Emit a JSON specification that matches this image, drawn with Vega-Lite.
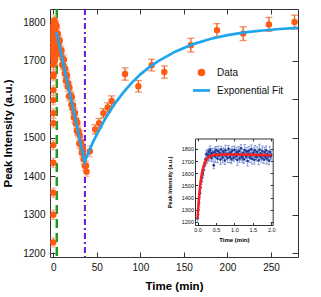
{
"$schema": "https://vega.github.io/schema/vega-lite/v6.json",
"width": 248, "height": 248,
"autosize": {"type": "none"},
"padding": {"left": 50, "top": 9, "right": 23, "bottom": 40},
"background": "white",
"config": {"view": {"stroke": null},
  "axis": {"grid": false, "domainColor": "#333", "tickColor": "#333", "labelColor": "#111", "titleColor": "#000", "labelFont": "Liberation Sans", "titleFont": "Liberation Sans", "titleFontWeight": "bold"},
  "legend": {"orient": "none", "legendX": 141.5, "legendY": 58.5, "labelFont": "Liberation Sans", "labelFontSize": 10, "labelColor": "#111", "labelOffset": 5.5, "rowPadding": -9, "symbolStrokeWidth": 2.7}},
"datasets": {
"pts": [
{"phase":"early","t":0,"y":1228,"err":12,"ierr":32},{"phase":"early","t":0.02,"y":1300,"err":12,"ierr":40},{"phase":"early","t":0.04,"y":1357,"err":12,"ierr":28},{"phase":"early","t":0.06,"y":1435,"err":12,"ierr":36},{"phase":"early","t":0.08,"y":1481,"err":12,"ierr":45},{"phase":"early","t":0.1,"y":1538,"err":12,"ierr":30},{"phase":"early","t":0.12,"y":1564,"err":12,"ierr":38},{"phase":"early","t":0.14,"y":1598,"err":12,"ierr":34},{"phase":"early","t":0.16,"y":1624,"err":12,"ierr":42},{"phase":"early","t":0.18,"y":1660,"err":12,"ierr":29},
{"phase":"early","t":0.2,"y":1690,"err":12,"ierr":32},{"phase":"early","t":0.22,"y":1712,"err":12,"ierr":40},{"phase":"early","t":0.24,"y":1760,"err":12,"ierr":28},{"phase":"early","t":0.26,"y":1718,"err":12,"ierr":36},{"phase":"early","t":0.28,"y":1748,"err":12,"ierr":45},{"phase":"early","t":0.3,"y":1775,"err":12,"ierr":30},{"phase":"early","t":0.32,"y":1738,"err":12,"ierr":38},{"phase":"early","t":0.34,"y":1790,"err":12,"ierr":34},{"phase":"early","t":0.36,"y":1760,"err":12,"ierr":42},{"phase":"early","t":0.38,"y":1725,"err":12,"ierr":29},
{"phase":"early","t":0.4,"y":1770,"err":12,"ierr":32},{"phase":"early","t":0.42,"y":1748,"err":12,"ierr":40},{"phase":"early","t":0.44,"y":1665,"err":12,"ierr":28},{"phase":"early","t":0.46,"y":1772,"err":12,"ierr":36},{"phase":"early","t":0.48,"y":1735,"err":12,"ierr":45},{"phase":"early","t":0.5,"y":1790,"err":12,"ierr":30},{"phase":"early","t":0.52,"y":1758,"err":12,"ierr":38},{"phase":"early","t":0.54,"y":1720,"err":12,"ierr":34},{"phase":"early","t":0.56,"y":1781,"err":12,"ierr":42},{"phase":"early","t":0.58,"y":1745,"err":12,"ierr":29},
{"phase":"early","t":0.6,"y":1768,"err":12,"ierr":32},{"phase":"early","t":0.62,"y":1712,"err":12,"ierr":40},{"phase":"early","t":0.64,"y":1795,"err":12,"ierr":28},{"phase":"early","t":0.66,"y":1750,"err":12,"ierr":36},{"phase":"early","t":0.68,"y":1730,"err":12,"ierr":45},{"phase":"early","t":0.7,"y":1778,"err":12,"ierr":30},{"phase":"early","t":0.72,"y":1762,"err":12,"ierr":38},{"phase":"early","t":0.74,"y":1704,"err":12,"ierr":34},{"phase":"early","t":0.76,"y":1788,"err":12,"ierr":42},{"phase":"early","t":0.78,"y":1741,"err":12,"ierr":29},
{"phase":"early","t":0.8,"y":1756,"err":12,"ierr":32},{"phase":"early","t":0.82,"y":1725,"err":12,"ierr":40},{"phase":"early","t":0.84,"y":1800,"err":12,"ierr":28},{"phase":"early","t":0.86,"y":1760,"err":12,"ierr":36},{"phase":"early","t":0.88,"y":1733,"err":12,"ierr":45},{"phase":"early","t":0.9,"y":1770,"err":12,"ierr":30},{"phase":"early","t":0.92,"y":1716,"err":12,"ierr":38},{"phase":"early","t":0.94,"y":1785,"err":12,"ierr":34},{"phase":"early","t":0.96,"y":1748,"err":12,"ierr":42},{"phase":"early","t":0.98,"y":1727,"err":12,"ierr":29},
{"phase":"early","t":1.0,"y":1792,"err":12,"ierr":32},{"phase":"early","t":1.02,"y":1755,"err":12,"ierr":40},{"phase":"early","t":1.04,"y":1738,"err":12,"ierr":28},{"phase":"early","t":1.06,"y":1775,"err":12,"ierr":36},{"phase":"early","t":1.08,"y":1709,"err":12,"ierr":45},{"phase":"early","t":1.1,"y":1764,"err":12,"ierr":30},{"phase":"early","t":1.12,"y":1782,"err":12,"ierr":38},{"phase":"early","t":1.14,"y":1722,"err":12,"ierr":34},{"phase":"early","t":1.16,"y":1750,"err":12,"ierr":42},{"phase":"early","t":1.18,"y":1805,"err":12,"ierr":29},
{"phase":"early","t":1.2,"y":1740,"err":12,"ierr":32},{"phase":"early","t":1.22,"y":1730,"err":12,"ierr":40},{"phase":"early","t":1.24,"y":1768,"err":12,"ierr":28},{"phase":"early","t":1.26,"y":1715,"err":12,"ierr":36},{"phase":"early","t":1.28,"y":1790,"err":12,"ierr":45},{"phase":"early","t":1.3,"y":1752,"err":12,"ierr":30},{"phase":"early","t":1.32,"y":1736,"err":12,"ierr":38},{"phase":"early","t":1.34,"y":1779,"err":12,"ierr":34},{"phase":"early","t":1.36,"y":1700,"err":12,"ierr":42},{"phase":"early","t":1.38,"y":1760,"err":12,"ierr":29},
{"phase":"early","t":1.4,"y":1785,"err":12,"ierr":32},{"phase":"early","t":1.42,"y":1728,"err":12,"ierr":40},{"phase":"early","t":1.44,"y":1744,"err":12,"ierr":28},{"phase":"early","t":1.46,"y":1796,"err":12,"ierr":36},{"phase":"early","t":1.48,"y":1719,"err":12,"ierr":45},{"phase":"early","t":1.5,"y":1758,"err":12,"ierr":30},{"phase":"early","t":1.52,"y":1770,"err":12,"ierr":38},{"phase":"early","t":1.54,"y":1710,"err":12,"ierr":34},{"phase":"early","t":1.56,"y":1787,"err":12,"ierr":42},{"phase":"early","t":1.58,"y":1742,"err":12,"ierr":29},
{"phase":"early","t":1.6,"y":1731,"err":12,"ierr":32},{"phase":"early","t":1.62,"y":1776,"err":12,"ierr":40},{"phase":"early","t":1.64,"y":1753,"err":12,"ierr":28},{"phase":"early","t":1.66,"y":1706,"err":12,"ierr":36},{"phase":"early","t":1.68,"y":1793,"err":12,"ierr":45},{"phase":"early","t":1.7,"y":1739,"err":12,"ierr":30},{"phase":"early","t":1.72,"y":1761,"err":12,"ierr":38},{"phase":"early","t":1.74,"y":1724,"err":12,"ierr":34},{"phase":"early","t":1.76,"y":1782,"err":12,"ierr":42},{"phase":"early","t":1.78,"y":1747,"err":12,"ierr":29},
{"phase":"early","t":1.8,"y":1712,"err":12,"ierr":32},{"phase":"early","t":1.82,"y":1772,"err":12,"ierr":40},{"phase":"early","t":1.84,"y":1735,"err":12,"ierr":28},{"phase":"early","t":1.86,"y":1788,"err":12,"ierr":36},{"phase":"early","t":1.88,"y":1720,"err":12,"ierr":45},{"phase":"early","t":1.9,"y":1757,"err":12,"ierr":30},{"phase":"early","t":1.92,"y":1742,"err":12,"ierr":38},{"phase":"early","t":1.94,"y":1703,"err":12,"ierr":34},{"phase":"early","t":1.96,"y":1775,"err":12,"ierr":42},{"phase":"early","t":1.98,"y":1738,"err":12,"ierr":29},
{"phase":"early","t":2.0,"y":1750,"err":12,"ierr":32},
{"phase":"decline","t":2.5,"y":1797,"err":12},{"phase":"decline","t":3.2,"y":1770,"err":12},{"phase":"decline","t":3.9,"y":1791,"err":12},{"phase":"decline","t":4.6,"y":1759,"err":12},{"phase":"decline","t":5.3,"y":1771,"err":12},{"phase":"decline","t":6.0,"y":1737,"err":12},{"phase":"decline","t":6.7,"y":1748,"err":12},{"phase":"decline","t":7.4,"y":1753,"err":12},{"phase":"decline","t":8.1,"y":1717,"err":12},{"phase":"decline","t":8.8,"y":1723,"err":12},
{"phase":"decline","t":9.5,"y":1727,"err":12},{"phase":"decline","t":10.2,"y":1690,"err":12},{"phase":"decline","t":10.9,"y":1706,"err":12},{"phase":"decline","t":11.6,"y":1687,"err":12},{"phase":"decline","t":12.3,"y":1703,"err":12},{"phase":"decline","t":13.0,"y":1667,"err":12},{"phase":"decline","t":13.7,"y":1680,"err":12},{"phase":"decline","t":14.4,"y":1648,"err":12},{"phase":"decline","t":15.1,"y":1660,"err":12},{"phase":"decline","t":15.8,"y":1663,"err":12},
{"phase":"decline","t":16.5,"y":1633,"err":12},{"phase":"decline","t":17.2,"y":1642,"err":12},{"phase":"decline","t":17.9,"y":1608,"err":12},{"phase":"decline","t":18.6,"y":1631,"err":12},{"phase":"decline","t":19.3,"y":1609,"err":12},{"phase":"decline","t":20.0,"y":1611,"err":12},{"phase":"decline","t":20.7,"y":1586,"err":12},{"phase":"decline","t":21.4,"y":1606,"err":12},{"phase":"decline","t":22.1,"y":1576,"err":12},{"phase":"decline","t":22.8,"y":1585,"err":12},
{"phase":"decline","t":23.5,"y":1553,"err":12},{"phase":"decline","t":24.2,"y":1564,"err":12},{"phase":"decline","t":24.9,"y":1565,"err":12},{"phase":"decline","t":25.6,"y":1537,"err":12},{"phase":"decline","t":26.3,"y":1545,"err":12},{"phase":"decline","t":27.0,"y":1518,"err":12},{"phase":"decline","t":27.7,"y":1539,"err":12},{"phase":"decline","t":28.4,"y":1514,"err":12},{"phase":"decline","t":29.1,"y":1518,"err":12},{"phase":"decline","t":29.8,"y":1485,"err":12},
{"phase":"decline","t":30.5,"y":1506,"err":12},{"phase":"decline","t":31.2,"y":1483,"err":12},{"phase":"decline","t":31.9,"y":1490,"err":12},{"phase":"decline","t":32.6,"y":1461,"err":12},{"phase":"decline","t":33.3,"y":1469,"err":12},{"phase":"decline","t":34.0,"y":1473,"err":12},{"phase":"decline","t":34.7,"y":1444,"err":12},{"phase":"decline","t":35.4,"y":1450,"err":12},{"phase":"decline","t":36.1,"y":1427,"err":12},{"phase":"decline","t":36.8,"y":1426,"err":12},
{"phase":"decline","t":37.5,"y":1428,"err":12},{"phase":"decline","t":38.2,"y":1412,"err":12},{"phase":"decline","t":42,"y":1465,"err":14},
{"phase":"recovery","t":48,"y":1522,"err":12},{"phase":"recovery","t":52.5,"y":1538,"err":12},{"phase":"recovery","t":57.5,"y":1564,"err":12},{"phase":"recovery","t":62.5,"y":1579,"err":12},{"phase":"recovery","t":67,"y":1596,"err":13},{"phase":"recovery","t":82.4,"y":1666,"err":16},{"phase":"recovery","t":97.7,"y":1634,"err":15},{"phase":"recovery","t":113,"y":1689,"err":15},{"phase":"recovery","t":127.5,"y":1671,"err":16},{"phase":"recovery","t":158,"y":1741,"err":18},{"phase":"recovery","t":188,"y":1780,"err":17},{"phase":"recovery","t":218,"y":1771,"err":18},{"phase":"recovery","t":247.6,"y":1795,"err":18},{"phase":"recovery","t":277,"y":1801,"err":18}
],
"fit": [
{"t":3.5,"y":1775},{"t":36,"y":1438},{"t":40,"y":1460},{"t":45,"y":1486},{"t":50,"y":1509},{"t":60,"y":1551},{"t":70,"y":1587},{"t":80,"y":1617},{"t":90,"y":1643},{"t":100,"y":1665},{"t":110,"y":1683},{"t":120,"y":1699},{"t":140,"y":1724},{"t":160,"y":1743},{"t":180,"y":1757},{"t":200,"y":1767},{"t":220,"y":1774},{"t":240,"y":1779},{"t":260,"y":1783},{"t":281,"y":1786}
],
"red": [
{"t":0,"y":1228},{"t":0.025,"y":1349},{"t":0.05,"y":1442},{"t":0.075,"y":1514},{"t":0.1,"y":1569},{"t":0.125,"y":1612},{"t":0.15,"y":1644},{"t":0.2,"y":1688},{"t":0.25,"y":1714},{"t":0.3,"y":1732},{"t":0.35,"y":1742},{"t":0.4,"y":1748},{"t":0.5,"y":1752},{"t":0.75,"y":1754},{"t":1.0,"y":1754},{"t":1.5,"y":1751},{"t":2.0,"y":1747}
]
},
"layer": [
{
"layer": [
{"data": {"values": [{"t": 4}]}, "mark": {"type": "rule", "color": "#1E9B1E", "strokeWidth": 2.5, "strokeDash": [9, 5]},
 "encoding": {"x": {"field": "t", "type": "quantitative", "title": "Time (min)", "scale": {"domain": [-3.8, 281], "nice": false, "zero": false},
   "axis": {"orient": "bottom", "values": [0, 50, 100, 150, 200, 250], "tickSize": -5, "labelPadding": 10, "labelFontSize": 10, "titleFontSize": 11.5, "titlePadding": 8}}}},
{"data": {"values": [{"t": 36.3}]}, "mark": {"type": "rule", "color": "#6A17D8", "strokeWidth": 2, "strokeDash": [6, 3, 2, 3]},
 "encoding": {"x": {"field": "t", "type": "quantitative", "title": "Time (min)"}}},
{"data": {"name": "pts"}, "transform": [{"filter": "datum.phase !== 'recovery'"}],
 "mark": {"type": "errorbar", "color": "#F59A78", "thickness": 1.2, "ticks": {"size": 6}},
 "encoding": {"x": {"field": "t", "type": "quantitative", "title": "Time (min)"},
   "y": {"field": "y", "type": "quantitative", "title": "Peak Intensity (a.u.)", "scale": {"domain": [1190, 1835], "nice": false, "zero": false},
     "axis": {"orient": "left", "values": [1200, 1300, 1400, 1500, 1600, 1700, 1800], "format": "d", "tickSize": -5, "labelPadding": 10, "labelFontSize": 10, "titleFontSize": 11.5, "titlePadding": 9}},
   "yError": {"field": "err"}}},
{"data": {"name": "pts"}, "transform": [{"filter": "datum.phase === 'recovery'"}],
 "mark": {"type": "errorbar", "color": "#F0621E", "thickness": 1.3, "ticks": {"size": 7}},
 "encoding": {"x": {"field": "t", "type": "quantitative", "title": "Time (min)"}, "y": {"field": "y", "type": "quantitative", "title": "Peak Intensity (a.u.)"}, "yError": {"field": "err"}}},
{"data": {"name": "pts"}, "mark": {"type": "point", "filled": true, "strokeWidth": 1.5, "opacity": 1},
 "encoding": {"x": {"field": "t", "type": "quantitative", "title": "Time (min)"}, "y": {"field": "y", "type": "quantitative", "title": "Peak Intensity (a.u.)"},
   "color": {"datum": "Data", "scale": {"domain": ["Data", "Exponential Fit"], "range": ["#FF5A14", "#1EA5EC"]}, "legend": {"title": null}},
   "stroke": {"datum": "Data", "scale": {"domain": ["Data", "Exponential Fit"], "range": ["#FF5A14", "#1EA5EC"]}, "legend": {"title": null}},
   "shape": {"datum": "Data", "scale": {"domain": ["Data", "Exponential Fit"], "range": ["circle", "stroke"]}, "legend": {"title": null}},
   "size": {"datum": "Data", "scale": {"domain": ["Data", "Exponential Fit"], "range": [24, 290]}, "legend": {"title": null}}}},
{"data": {"name": "fit"}, "mark": {"type": "line", "strokeWidth": 2.7, "clip": true},
 "encoding": {"x": {"field": "t", "type": "quantitative", "title": "Time (min)"}, "y": {"field": "y", "type": "quantitative", "title": "Peak Intensity (a.u.)"}, "color": {"datum": "Exponential Fit"}}}
]
},
{"data": {"name": "fit"}, "mark": {"type": "point", "opacity": 0},
 "encoding": {
  "x": {"field": "t", "type": "quantitative", "scale": {"domain": [-3.8, 281], "nice": false, "zero": false},
    "axis": {"orient": "top", "values": [0, 50, 100, 150, 200, 250], "tickSize": -5, "labels": false, "title": null}},
  "y": {"field": "y", "type": "quantitative", "scale": {"domain": [1190, 1835], "nice": false, "zero": false},
    "axis": {"orient": "right", "values": [1200, 1300, 1400, 1500, 1600, 1700, 1800], "tickSize": -6, "labels": false, "title": null}}}},
{
"layer": [
{"data": {"name": "pts"}, "transform": [{"filter": "datum.phase === 'early'"}],
 "mark": {"type": "errorbar", "color": "#4A67C4", "opacity": 0.75, "thickness": 0.8, "ticks": {"size": 2.5}},
 "encoding": {
  "x": {"field": "t", "type": "quantitative", "title": "Time (min)", "scale": {"domain": [-0.07, 2.04], "range": [145, 222.7], "nice": false, "zero": false},
    "axis": {"orient": "bottom", "offset": -32, "values": [0, 0.5, 1, 1.5, 2], "format": ".1f", "tickSize": -2.5, "labelPadding": 4.5, "labelFontSize": 5.5, "titleFontSize": 6, "titlePadding": 4}},
  "y": {"field": "y", "type": "quantitative", "title": "Peak Intensity (a.u.)", "scale": {"domain": [1175, 1885], "range": [216, 129.5], "nice": false, "zero": false},
    "axis": {"orient": "left", "offset": -145, "values": [1200, 1300, 1400, 1500, 1600, 1700, 1800], "format": "d", "tickSize": -2.5, "labelPadding": 4, "labelFontSize": 5.5, "titleFontSize": 5.5, "titlePadding": 9}},
  "yError": {"field": "ierr"}}},
{"data": {"name": "pts"}, "transform": [{"filter": "datum.phase === 'early'"}],
 "mark": {"type": "point", "filled": true, "size": 7, "color": "#1B3A8F", "opacity": 1},
 "encoding": {"x": {"field": "t", "type": "quantitative", "title": "Time (min)"}, "y": {"field": "y", "type": "quantitative", "title": "Peak Intensity (a.u.)"}}},
{"data": {"name": "red"}, "mark": {"type": "line", "color": "#FF1F1F", "strokeWidth": 2.5},
 "encoding": {"x": {"field": "t", "type": "quantitative", "title": "Time (min)"}, "y": {"field": "y", "type": "quantitative", "title": "Peak Intensity (a.u.)"}}}
]
},
{"data": {"name": "red"}, "mark": {"type": "point", "opacity": 0},
 "encoding": {
  "x": {"field": "t", "type": "quantitative", "scale": {"domain": [-0.07, 2.04], "range": [145, 222.7], "nice": false, "zero": false},
    "axis": {"orient": "top", "offset": -129.5, "values": [0, 0.5, 1, 1.5, 2], "tickSize": -2.5, "labels": false, "title": null}},
  "y": {"field": "y", "type": "quantitative", "scale": {"domain": [1175, 1885], "range": [216, 129.5], "nice": false, "zero": false},
    "axis": {"orient": "right", "offset": -25.3, "values": [1200, 1300, 1400, 1500, 1600, 1700, 1800], "tickSize": -2.5, "labels": false, "title": null}}}}
],
"resolve": {"scale": {"x": "independent", "y": "independent"}, "axis": {"x": "independent", "y": "independent"}}
}
